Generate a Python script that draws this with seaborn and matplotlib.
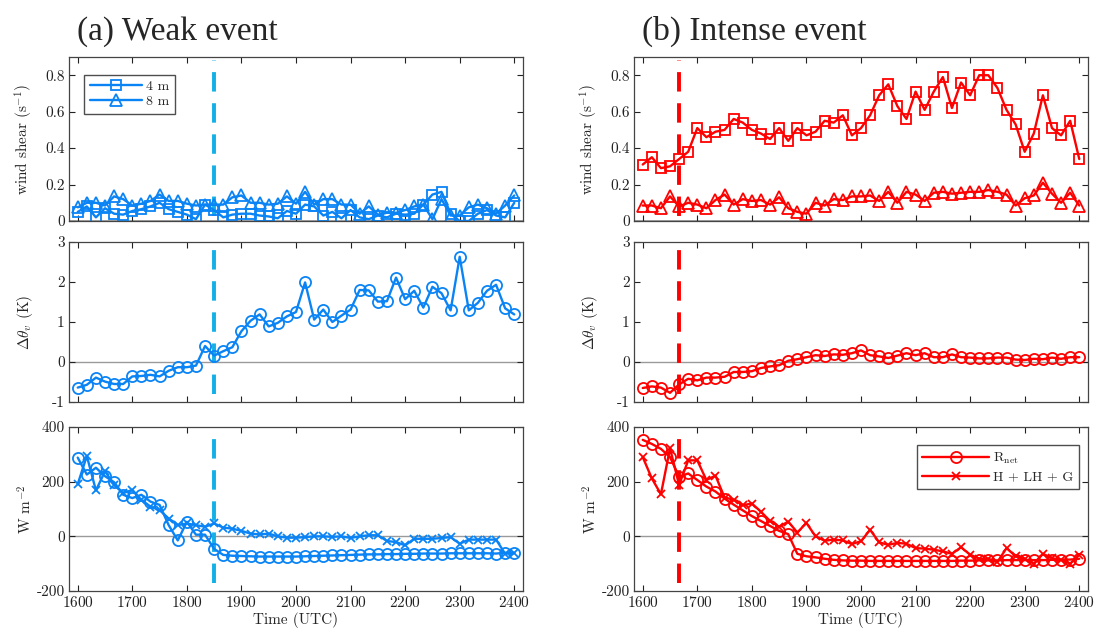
import numpy as np
import matplotlib
matplotlib.use("Agg")
import matplotlib.pyplot as plt
import seaborn as sns
from matplotlib.ticker import FuncFormatter, MultipleLocator

# time axis: 10-minute samples, 1600 to 2400 UTC
time = np.linspace(1600, 2400, 49)
onset_weak = 1850
onset_intense = 1666.7

# (a) weak event
weak_shear_4m = [0.05, 0.08, 0.02, 0.07, 0.04, 0.035, 0.055, 0.065, 0.08, 0.10, 0.065, 0.05, 0.035, 0.01, 0.09, 0.06,
                 0.02, 0.035, 0.04, 0.04, 0.03, 0.025, 0.015, 0.055, 0.04, 0.09, 0.08, 0.03, 0.05, 0.015, 0.06, 0.02,
                 0.01, 0.03, 0.02, 0.04, 0.035, 0.04, 0.09, 0.145, 0.16, 0.04, 0.0, 0.0, 0.04, 0.06, 0.03, 0.02, 0.10]
weak_shear_8m = [0.075, 0.10, 0.10, 0.085, 0.135, 0.12, 0.085, 0.095, 0.11, 0.145, 0.11, 0.11, 0.095, 0.085, 0.09, 0.09,
                 0.09, 0.13, 0.14, 0.10, 0.10, 0.09, 0.095, 0.135, 0.095, 0.16, 0.09, 0.12, 0.12, 0.09, 0.09, 0.04,
                 0.08, 0.035, 0.045, 0.045, 0.06, 0.08, 0.09, 0.01, 0.12, 0.03, 0.03, 0.075, 0.09, 0.07, 0.04, 0.085, 0.14]
weak_dtheta = [-0.64, -0.57, -0.39, -0.49, -0.55, -0.55, -0.36, -0.35, -0.32, -0.36, -0.22, -0.13, -0.13, -0.09, 0.40,
               0.16, 0.27, 0.37, 0.77, 1.03, 1.19, 0.89, 0.98, 1.14, 1.25, 1.99, 1.06, 1.31, 1.00, 1.16, 1.31, 1.80,
               1.79, 1.51, 1.52, 2.11, 1.57, 1.78, 1.36, 1.88, 1.72, 1.29, 2.63, 1.29, 1.48, 1.78, 1.93, 1.34, 1.19]
weak_rnet = [288, 226, 251, 220, 198, 152, 140, 152, 127, 115, 41, -15, 53, 6, 6, -46, -68,
             -71, -72, -73, -74, -74, -74, -74, -74, -73, -72, -71, -70, -69, -68, -67, -66,
             -66, -65, -65, -64, -64, -63, -63, -63, -62, -62, -62, -62, -62, -63, -60, -62]
weak_flux = [191, 294, 168, 238, 189, 158, 170, 133, 109, 96, 65, 41, 47, 41, 35, 47, 32, 28,
             20, 10, 7, 10, 0, -5, -5, -3, 0, 0, -2, 0, -6, 0, 4, 4, -17, -21, -33, -9, -9, -9,
             -6, -3, -27, -12, -12, -12, -12, -64, -60]

# (b) intense event
int_shear_4m = [0.31, 0.35, 0.29, 0.30, 0.34, 0.38, 0.51, 0.46, 0.49, 0.50, 0.56, 0.54, 0.50, 0.48, 0.45, 0.51,
                0.44, 0.51, 0.47, 0.49, 0.55, 0.54, 0.58, 0.47, 0.51, 0.58, 0.69, 0.75, 0.63, 0.56, 0.71, 0.61,
                0.71, 0.79, 0.62, 0.76, 0.69, 0.80, 0.80, 0.73, 0.61, 0.53, 0.38, 0.48, 0.69, 0.51, 0.47, 0.55, 0.34]
int_shear_8m = [0.085, 0.085, 0.07, 0.135, 0.08, 0.10, 0.09, 0.07, 0.115, 0.145, 0.09, 0.12, 0.11, 0.115, 0.09, 0.13,
                0.07, 0.05, 0.04, 0.10, 0.085, 0.12, 0.115, 0.135, 0.135, 0.14, 0.11, 0.16, 0.10, 0.16, 0.145, 0.11,
                0.155, 0.16, 0.15, 0.155, 0.16, 0.16, 0.17, 0.16, 0.145, 0.085, 0.125, 0.14, 0.21, 0.15, 0.10, 0.155, 0.085]
int_dtheta = [-0.65, -0.61, -0.64, -0.77, -0.56, -0.42, -0.46, -0.39, -0.39, -0.37, -0.25, -0.25, -0.23, -0.15, -0.11,
              -0.08, 0.03, 0.07, 0.12, 0.17, 0.15, 0.19, 0.18, 0.22, 0.29, 0.17, 0.14, 0.10, 0.16, 0.22, 0.17, 0.22,
              0.12, 0.12, 0.19, 0.12, 0.11, 0.09, 0.09, 0.11, 0.11, 0.06, 0.05, 0.08, 0.07, 0.11, 0.08, 0.12, 0.12]
int_rnet = [353, 338, 320, 290, 218, 230, 206, 182, 164, 138, 116, 95, 74, 56, 38, 20, 8,
            -64, -73, -77, -82, -86, -88, -89, -89, -90, -90, -90, -90, -90, -90, -90, -90,
            -90, -90, -89, -89, -88, -88, -88, -87, -87, -87, -87, -87, -86, -86, -85, -82]
int_flux = [290, 212, 154, 322, 188, 278, 278, 206, 222, 142, 134, 114, 120, 90, 56, 35, 54, 14,
            49, 0, -16, -12, -15, -28, -18, 24, -22, -31, -24, -27, -43, -45, -49, -55, -64, -40,
            -67, -82, -82, -94, -43, -73, -82, -100, -64, -80, -86, -100, -67]

blue = "#0a84f5"
blue_dash = "#12b0e6"
red = "#ff0000"

sns.set_style("ticks")
plt.rcParams["font.family"] = ["cmr10", "DejaVu Serif"]
plt.rcParams["mathtext.fontset"] = "cm"
plt.rcParams["axes.unicode_minus"] = False
plt.rcParams["axes.formatter.use_mathtext"] = True

fig = plt.figure(figsize=(10.98, 6.38), dpi=100)

W, H = 1098, 638
lefts = [69 / W, 634 / W]
w = 454 / W
# panel rows in pixels (top, bottom)
rows = [(57, 221), (242, 402), (427, 591)]

fmt = FuncFormatter(lambda v, p: ("%g" % v).replace("\u2212", "-"))

cases = [
    (blue, blue_dash, onset_weak, weak_shear_4m, weak_shear_8m, weak_dtheta, weak_rnet, weak_flux, "(a) Weak event"),
    (red, red, onset_intense, int_shear_4m, int_shear_8m, int_dtheta, int_rnet, int_flux, "(b) Intense event"),
]

mk = dict(markerfacecolor="none", linewidth=1.7, markeredgewidth=1.3)
leg_kw = dict(frameon=True, fancybox=False, edgecolor="#222222", borderaxespad=0,
              borderpad=0.4, handletextpad=0.3, fontsize=10)

for c, (col, dcol, onset, s4, s8, dth, rnet, flux, title) in enumerate(cases):
    axes = [fig.add_axes([lefts[c], 1 - b / H, w, (b - t) / H]) for t, b in rows]

    ax = axes[0]
    sns.lineplot(x=time, y=s4, ax=ax, color=col, marker="s", markersize=7, markeredgecolor=col,
                 label="4 m", **mk)
    sns.lineplot(x=time, y=s8, ax=ax, color=col, marker="^", markersize=8, markeredgecolor=col,
                 label="8 m", **mk)
    ax.set_ylim(0, 0.9)
    ax.yaxis.set_major_locator(MultipleLocator(0.2))
    ax.set_ylabel("wind shear (s$^{-1}$)", fontsize=11)
    if c == 0:
        ax.legend(loc="upper left", bbox_to_anchor=(0.033, 0.89), handlelength=3.8,
                  labelspacing=0.15, **leg_kw)
    else:
        ax.get_legend().remove()

    ax = axes[1]
    sns.lineplot(x=time, y=dth, ax=ax, color=col, marker="o", markersize=8, markeredgecolor=col, **mk)
    ax.set_ylim(-1, 3)
    ax.yaxis.set_major_locator(MultipleLocator(1))
    ax.set_ylabel(r"$\Delta\theta_v$ (K)", fontsize=11)

    ax = axes[2]
    sns.lineplot(x=time, y=rnet, ax=ax, color=col, marker="o", markersize=8, markeredgecolor=col,
                 label=r"R$_{\mathrm{net}}$", **mk)
    sns.lineplot(x=time, y=flux, ax=ax, color=col, marker="x", markersize=6, markeredgecolor=col,
                 label="H + LH + G", **mk)
    ax.set_ylim(-200, 400)
    ax.yaxis.set_major_locator(MultipleLocator(200))
    ax.set_ylabel("W m$^{-2}$", fontsize=11)
    ax.set_xlabel("Time (UTC)", fontsize=11, labelpad=1)
    if c == 1:
        ax.legend(loc="upper right", bbox_to_anchor=(0.98, 0.89), handlelength=4.8,
                  labelspacing=0.35, **leg_kw)
    else:
        ax.get_legend().remove()

    for i, ax in enumerate(axes):
        ax.set_xlim(1584, 2416)
        ax.xaxis.set_major_locator(MultipleLocator(100))
        ax.yaxis.set_major_formatter(fmt)
        ax.axhline(0, color="#9a9a9a", lw=1.0 if i else 2.0, zorder=0)
        ax.axvline(onset, color=dcol, lw=2.8, dashes=(5, 3), ymin=0.03 if i == 0 else 0.05,
                   ymax=0.98, zorder=1)
        ax.tick_params(direction="in", length=4, width=0.8, top=True, right=True,
                       labelsize=11, colors="#222222", pad=3)
        for sp in ax.spines.values():
            sp.set_visible(True)
            sp.set_color("#444444")
            sp.set_linewidth(0.9)
        if i < 2:
            ax.set_xticklabels([])
        ax.yaxis.set_label_coords(-0.075, 0.5)

    fig.text((lefts[c] * W + 8) / W, 1 - 40 / H, title, fontsize=24,
             family="Liberation Serif", va="baseline", ha="left")

fig.savefig("out.png", dpi=100)
